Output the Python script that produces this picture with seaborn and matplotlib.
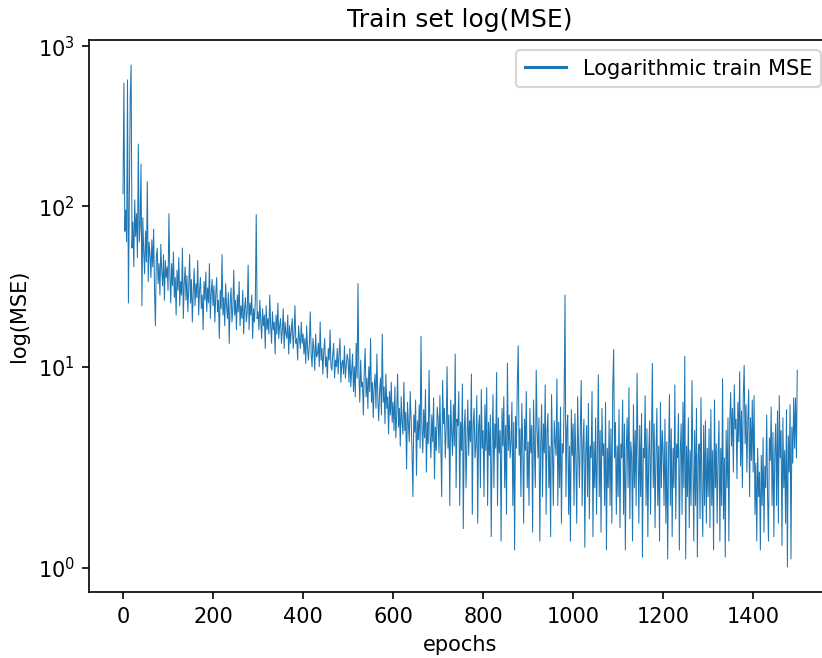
import numpy as np
import pandas as pd
import matplotlib
matplotlib.use("Agg")
import matplotlib.pyplot as plt
import seaborn as sns

# Train MSE, one value every 2 epochs (epochs 0..1498)
mse_0000_0098 = [120, 588, 70, 95, 60, 616, 25, 100, 468, 762,
                 55, 80, 42, 110, 65, 90, 48, 245, 60, 75,
                 184, 24, 85, 52, 38, 70, 45, 143, 34, 60,
                 50, 36, 62, 42, 72, 30, 18, 48, 55, 33,
                 44, 28, 58, 40, 32, 50, 26, 46, 36, 42]
mse_0100_0198 = [30, 90, 38, 25, 44, 32, 52, 27, 36, 21,
                 40, 30, 48, 24, 34, 28, 55, 20, 33, 42,
                 26, 37, 22, 31, 50, 25, 35, 19, 29, 41,
                 24, 33, 27, 46, 21, 30, 36, 23, 28, 17,
                 34, 26, 39, 22, 31, 25, 44, 20, 29, 35]
mse_0200_0298 = [24, 32, 19, 28, 36, 22, 26, 15, 30, 23,
                 50, 21, 27, 18, 33, 24, 20, 29, 14, 25,
                 31, 19, 23, 40, 21, 26, 17, 28, 22, 34,
                 18, 24, 20, 30, 16, 23, 27, 19, 22, 43,
                 17, 25, 21, 28, 15, 23, 19, 26, 89, 20]
mse_0300_0398 = [22, 17, 26, 19, 15, 23, 18, 21, 13, 24,
                 17, 20, 16, 28, 18, 14, 22, 17, 19, 12,
                 21, 16, 25, 15, 18, 20, 14, 17, 23, 13,
                 19, 16, 15, 21, 12, 18, 14, 17, 20, 13,
                 16, 24, 14, 15, 11, 18, 15, 13, 19, 14]
mse_0400_0498 = [16, 12, 15, 10.5, 18, 13, 11, 14, 22, 12,
                 10, 15, 13, 9.5, 16, 11.5, 12, 14, 10, 19,
                 11, 13, 9, 12.5, 15, 10, 11.5, 8.5, 13, 11,
                 17, 10, 9.5, 12, 14, 8.5, 11, 10, 13, 9,
                 12, 15, 8, 10.5, 11, 9, 13.5, 8.5, 10, 12]
mse_0500_0598 = [11, 8, 13, 7.5, 9.5, 12, 7, 10, 6.5, 14,
                 8.5, 33, 9, 6, 11, 7.5, 8, 5, 9.5, 13,
                 6.5, 8.5, 5.5, 10, 7, 15, 6, 8, 4.8, 7.5,
                 9, 5.5, 12, 6.5, 4.6, 7, 8.5, 5, 16, 6,
                 7.5, 4.4, 9, 5.5, 6.5, 3.8, 7, 5, 8, 4.5]
mse_0600_0698 = [6, 4, 7.5, 3.6, 5, 9, 4.2, 5.5, 3.2, 6.5,
                 4.5, 3.8, 8, 4, 5.2, 2.3, 6, 4.4, 3.4, 7,
                 4.8, 3, 1.8, 5, 3.9, 6.2, 2.1, 4.6, 3.5, 5.8,
                 3.1, 15.5, 4.2, 2.9, 5.4, 3.6, 7.2, 2.2, 4.5, 3.3,
                 9.5, 3.8, 2.7, 5, 3.4, 6.4, 2.0, 4.2, 3, 5.6]
mse_0700_0798 = [4.8, 2.9, 6.6, 3.4, 1.8, 8.2, 4.4, 5.5, 2.7, 4.1,
                 10, 3.1, 5, 1.7, 6.2, 4, 2.8, 5.8, 3.2, 12,
                 1.9, 4.7, 4.3, 7, 1.7, 4.5, 3, 7.8, 1.44, 4.1,
                 5.4, 1.9, 3.3, 6.2, 2.8, 4.6, 3.4, 9, 1.6, 4.4,
                 5.5, 2.7, 3.2, 6.6, 1.5, 4.3, 5, 1.9, 7.2, 3.1]
mse_0800_0898 = [4, 1.8, 5.8, 3, 7.4, 1.7, 4.5, 2.8, 5, 1.35,
                 3.3, 6.7, 1.9, 4.4, 3.1, 9.2, 1.7, 4.8, 2.9, 4,
                 1.3, 5.5, 3.2, 6.5, 1.9, 4.3, 1.6, 10.5, 3, 5,
                 2.7, 3.4, 6, 1.7, 4.5, 1.2, 4.9, 3.1, 7.9, 13.5,
                 2.8, 4.1, 1.8, 5.9, 3.3, 1.5, 4.7, 3, 7, 1.9]
mse_0900_0998 = [3.4, 1.7, 5.5, 2.9, 4.3, 1.4, 6.2, 3.1, 1.9, 9.5,
                 4.1, 2.7, 4.8, 1.3, 3.3, 5.8, 1.8, 4.4, 2.9, 7.7,
                 1.6, 4, 5.1, 1.9, 3.2, 1.35, 6.7, 3, 1.7, 4.6,
                 3.4, 2.8, 8.4, 1.7, 4.5, 1.9, 5.6, 1.5, 3.3, 2.9,
                 6.1, 28, 1.8, 4.1, 5, 1.6, 3.2, 1.3, 5.4, 2.8]
mse_1000_1098 = [4.4, 1.7, 5.1, 2.7, 1.5, 6.5, 3.1, 1.9, 4.1, 8.2,
                 1.7, 3.3, 4.7, 1.23, 2.9, 4.3, 1.8, 5.9, 1.55, 3.2,
                 2.7, 7, 1.35, 3.4, 1.9, 4.8, 1.6, 3, 8.9, 1.8,
                 4, 1.4, 5.5, 2.8, 3.3, 1.7, 6, 1.2, 3.1, 1.9,
                 4.6, 1.7, 4.1, 1.5, 7.2, 12.8, 2.7, 4.5, 1.6, 3.2]
mse_1100_1198 = [1.8, 5.4, 1.45, 3.3, 2.7, 6.2, 1.6, 4.4, 1.2, 3,
                 4.8, 1.9, 7.4, 1.55, 3.4, 2.8, 1.3, 5.8, 1.9, 4,
                 1.7, 9.1, 2.9, 1.5, 4.3, 1.8, 5.1, 1.12, 3.1, 2.7,
                 6.6, 1.7, 4.1, 1.35, 2.9, 4.6, 1.6, 3.3, 10.5, 1.9,
                 4.4, 1.45, 2.8, 5.5, 1.7, 3.2, 1.3, 6, 1.9, 4]
mse_1200_1298 = [3, 1.7, 4.7, 1.5, 3.4, 1.1, 2.8, 6.7, 1.7, 4.1,
                 1.35, 3.1, 1.9, 7.7, 1.55, 3.3, 2.7, 5.1, 1.2, 2.9,
                 4.4, 1.6, 6, 1.9, 11.6, 1.1, 3.2, 1.8, 4.8, 1.45,
                 3, 1.7, 8.2, 2.7, 1.3, 4, 1.7, 5.5, 1.12, 2.8,
                 3.3, 1.55, 6.4, 1.9, 1.35, 4.3, 1.7, 4.6, 1.5, 3.1]
mse_1300_1398 = [1.8, 4.1, 1.45, 5.4, 1.7, 3, 1.2, 6.2, 1.9, 3.3,
                 1.5, 2.8, 4.6, 1.3, 3.1, 1.7, 8.4, 1.55, 2.7, 1.12,
                 4, 1.9, 4.8, 1.3, 4.5, 6.9, 3.2, 5.5, 2.2, 7.7,
                 4.1, 4.7, 2, 6, 3.4, 9.3, 2.4, 5.3, 1.9, 6.6,
                 10.2, 3.3, 5.8, 2.2, 4.5, 7.2, 1.8, 4.8, 2.6, 6.2]
mse_1400_1498 = [2.2, 6.6, 1.6, 2.5, 1.3, 3.1, 1.8, 2.2, 1.2, 2.8,
                 1.7, 3.6, 1.4, 2.4, 1.9, 5, 1.8, 1.3, 3.6, 2.6,
                 5.6, 1.7, 3.9, 1.35, 2.9, 4.4, 1.7, 5.3, 1.5, 6.6,
                 2.7, 4, 1.25, 4.8, 1.9, 3, 1.5, 5.4, 1.01, 3.7,
                 2.2, 5.8, 1.1, 4.2, 2.5, 6.4, 3.1, 6.4, 2.7, 9.5]

mse = (mse_0000_0098 + mse_0100_0198 + mse_0200_0298 + mse_0300_0398
       + mse_0400_0498 + mse_0500_0598 + mse_0600_0698 + mse_0700_0798
       + mse_0800_0898 + mse_0900_0998 + mse_1000_1098 + mse_1100_1198
       + mse_1200_1298 + mse_1300_1398 + mse_1400_1498)
epoch_step = 2
epochs = [i * epoch_step for i in range(len(mse))]

df = pd.DataFrame({"epochs": epochs, "mse": mse})

W, H, DPI = 822, 658, 150
fig = plt.figure(figsize=(W / DPI, H / DPI), dpi=DPI)
ax = fig.add_axes([89.3 / W, 1 - 592 / H, 741.7 / W, 552 / H])
ax.set_yscale("symlog")

sns.lineplot(data=df, x="epochs", y="mse", ax=ax, linewidth=0.5,
             color="#1f77b4", label="Logarithmic train MSE")
ax.relim()
ax.autoscale_view()
ax.set_title("Train set log(MSE)")
ax.set_xlabel("epochs")
ax.set_ylabel("log(MSE)")
leg = ax.legend(loc="upper right")
for ln in leg.get_lines():
    ln.set_linewidth(1.5)

fig.savefig("out.png", dpi=DPI)
